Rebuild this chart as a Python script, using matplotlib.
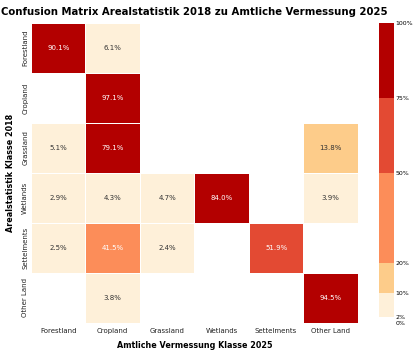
"""
Confusion matrix Arealstatistik 2018 vs. Amtliche Vermessung 2025 (row-normalised %).
"""

import numpy as np
import matplotlib.pyplot as plt
from matplotlib.colors import ListedColormap, BoundaryNorm

classes = ['Forestland', 'Cropland', 'Grassland', 'Wetlands', 'Settelments', 'Other Land']

# rows: Arealstatistik 2018, cols: Amtliche Vermessung 2025 (percent); 0 = not shown
row_forestland = [90.1, 6.1, 0.0, 0.0, 0.0, 0.0]
row_cropland = [0.0, 97.1, 0.0, 0.0, 0.0, 0.0]
row_grassland = [5.1, 79.1, 0.0, 0.0, 0.0, 13.8]
row_wetlands = [2.9, 4.3, 4.7, 84.0, 0.0, 3.9]
row_settlements = [2.5, 41.5, 2.4, 0.0, 51.9, 0.0]
row_other = [0.0, 3.8, 0.0, 0.0, 0.0, 94.5]

bounds = [0, 2, 10, 20, 50, 75, 100]
colors = ['#ffffff', '#fef0d9', '#fdcc8a', '#fc8d59', '#e34a33', '#b30000']

cm = np.array([row_forestland, row_cropland, row_grassland,
               row_wetlands, row_settlements, row_other])

cmap = ListedColormap(colors)
norm = BoundaryNorm(bounds, cmap.N)

fig = plt.figure(figsize=(4.19, 3.54), dpi=100)
ax = fig.add_axes([0.074, 0.088, 0.780, 0.847])
cax = fig.add_axes([0.905, 0.088, 0.036, 0.847])

masked = np.ma.masked_less(cm, 2)
mesh = ax.pcolormesh(masked, cmap=cmap, norm=norm, edgecolors='white', linewidth=0.6)
ax.set_xlim(0, len(classes))
ax.set_ylim(len(classes), 0)

for i in range(cm.shape[0]):
    for j in range(cm.shape[1]):
        v = cm[i, j]
        if v >= 2:
            ax.text(j + 0.5, i + 0.5, f'{v:.1f}%', ha='center', va='center',
                    fontsize=5, color='white' if v > 20 else '#333333')

ax.set_xticks(np.arange(len(classes)) + 0.5)
ax.set_xticklabels(classes, fontsize=5, color='#222222')
ax.set_yticks(np.arange(len(classes)) + 0.5)
ax.set_yticklabels(classes, fontsize=5, rotation=90, va='center', color='#222222')
ax.tick_params(axis='x', length=0, pad=4)
ax.tick_params(axis='y', length=0, pad=2)
for s in ax.spines.values():
    s.set_visible(False)

ax.set_xlabel('Amtliche Vermessung Klasse 2025', fontsize=5.8, fontweight='bold', labelpad=5)
ax.set_ylabel('Arealstatistik Klasse 2018', fontsize=5.8, fontweight='bold', labelpad=5)
ax.set_title('Confusion Matrix Arealstatistik 2018 zu Amtliche Vermessung 2025',
             fontsize=7.3, fontweight='bold', pad=6)

cb = fig.colorbar(mesh, cax=cax, boundaries=bounds, ticks=bounds, spacing='proportional')
cb.ax.set_yticklabels([f'{b}%' for b in bounds], fontsize=4.5)
cb.ax.tick_params(length=0, pad=1)
cb.outline.set_visible(False)

fig.savefig('out.png', dpi=100)
plt.close(fig)
